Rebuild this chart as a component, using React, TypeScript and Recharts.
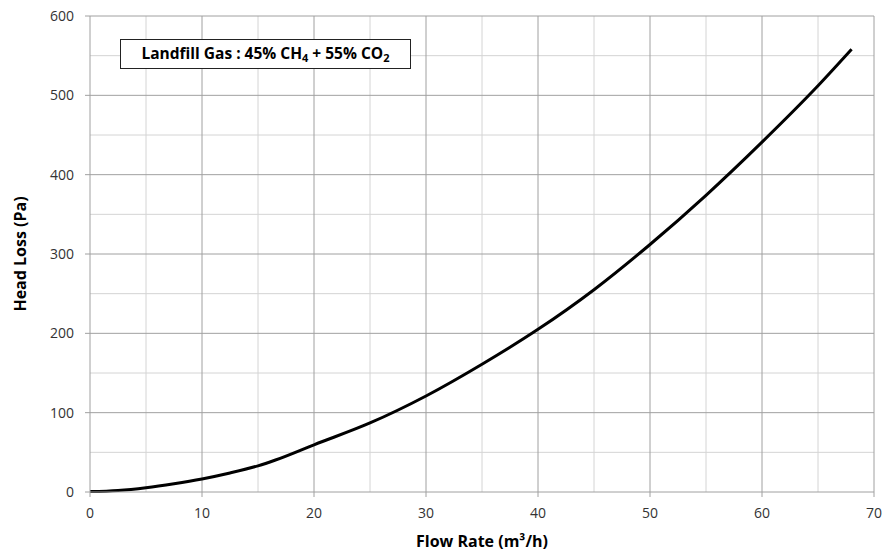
import React from 'react';
import { LineChart, Line, XAxis, YAxis, ReferenceLine } from 'recharts';

const flowRate = [0, 2.5, 5, 7.5, 10, 12.5, 15, 16.5, 20, 25, 30, 35, 40, 45, 50, 55, 60, 65, 68];
const headLoss = [0.5, 2, 5.5, 10.5, 16.5, 24, 33, 40, 59.5, 87, 121, 161, 205, 255, 312, 374, 441, 512, 558];

const xTicks = [0, 10, 20, 30, 40, 50, 60, 70];
const yTicks = [0, 100, 200, 300, 400, 500, 600];
const xMinorGrid = [5, 15, 25, 35, 45, 55, 65];
const yMinorGrid = [50, 150, 250, 350, 450, 550];
const xMajorGrid = [10, 20, 30, 40, 50, 60, 70];
const yMajorGrid = [100, 200, 300, 400, 500, 600];

const data = flowRate.map((x, i) => ({ x, y: headLoss[i] }));

const FONT = '"Open Sans", Calibri, sans-serif';
const MAJOR = '#a0a0a0';
const MINOR = '#d4d4d4';

export default function App() {
  return (
    <div style={{ position: 'absolute', left: 0, top: 0, width: 888, height: 554, background: '#fff', fontFamily: FONT }}>
      <LineChart width={888} height={554} data={data} margin={{ top: 16, right: 14, bottom: 0, left: 0 }}>
        {xMinorGrid.map((v) => (
          <ReferenceLine key={'xm' + v} x={v} stroke={MINOR} strokeWidth={1} />
        ))}
        {yMinorGrid.map((v) => (
          <ReferenceLine key={'ym' + v} y={v} stroke={MINOR} strokeWidth={1} />
        ))}
        {xMajorGrid.map((v) => (
          <ReferenceLine key={'xM' + v} x={v} stroke={MAJOR} strokeWidth={1} />
        ))}
        {yMajorGrid.map((v) => (
          <ReferenceLine key={'yM' + v} y={v} stroke={MAJOR} strokeWidth={1} />
        ))}
        <XAxis
          type="number"
          dataKey="x"
          domain={[0, 70]}
          ticks={xTicks}
          interval={0}
          height={62}
          stroke={MAJOR}
          tickSize={5}
          tickMargin={11}
          tick={{ fill: '#333', fontSize: 14, fontFamily: FONT }}
          label={{
            value: 'Flow Rate (m³/h)',
            position: 'insideBottom',
            offset: 7,
            style: { fill: '#000', fontSize: 16, fontWeight: 700, fontFamily: FONT },
          }}
        />
        <YAxis
          type="number"
          domain={[0, 600]}
          ticks={yTicks}
          interval={0}
          width={90}
          stroke={MAJOR}
          tickSize={5}
          tickMargin={11}
          tick={{ fill: '#333', fontSize: 14, fontFamily: FONT }}
          label={{
            value: 'Head Loss (Pa)',
            angle: -90,
            position: 'insideLeft',
            offset: 20,
            style: { textAnchor: 'middle', fill: '#000', fontSize: 16, fontWeight: 700, fontFamily: FONT },
          }}
        />
        <Line
          type="monotone"
          dataKey="y"
          stroke="#000"
          strokeWidth={3}
          dot={false}
          isAnimationActive={false}
        />
      </LineChart>
      <div
        style={{
          position: 'absolute',
          left: 120,
          top: 39,
          width: 289,
          height: 28,
          border: '1px solid #222',
          background: '#fff',
          display: 'flex',
          alignItems: 'center',
          justifyContent: 'center',
          fontFamily: FONT,
          fontWeight: 700,
          fontSize: 15.5,
          color: '#000',
          lineHeight: '1',
          whiteSpace: 'nowrap',
        }}
      >
        <span>
          Landfill Gas : 45% CH<sub style={{ fontSize: 11, verticalAlign: '-3px' }}>4</sub> + 55% CO
          <sub style={{ fontSize: 11, verticalAlign: '-3px' }}>2</sub>
        </span>
      </div>
    </div>
  );
}
